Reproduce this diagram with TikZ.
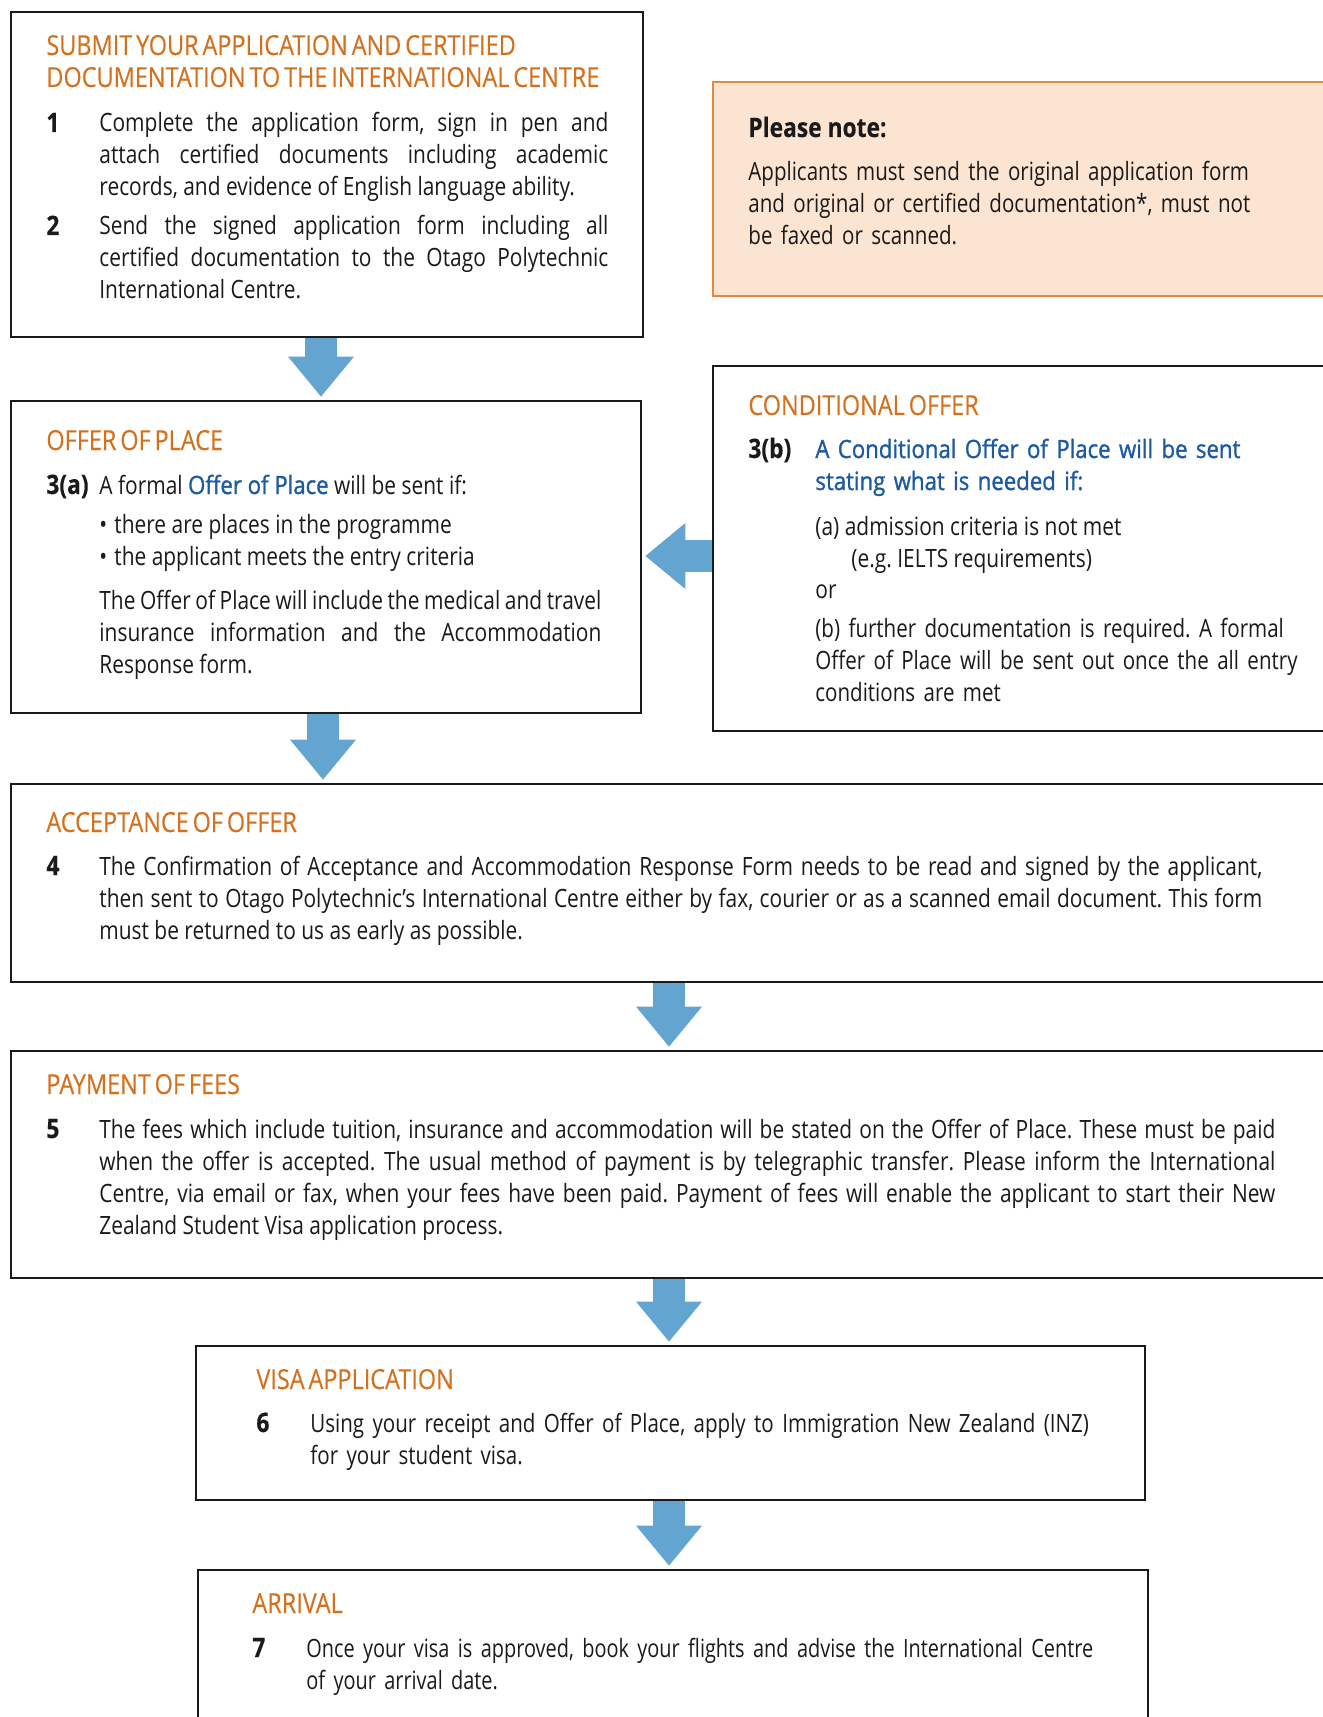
\documentclass[tikz,border=0pt]{standalone}
\usepackage{fontspec}
\setmainfont{Open Sans}[FakeStretch=0.83]
\newfontfamily\headfont{Open Sans}[FakeStretch=0.85, FakeBold=0.3]
\newfontfamily\semifont{Open Sans}[FakeStretch=0.88, FakeBold=1.2]
\newfontfamily\midfont{Open Sans}[FakeStretch=0.815]
\newfontfamily\tightfont{Open Sans}[FakeStretch=0.79]
\newcommand\headsetup{\fontsize{13.8pt}{16pt}\selectfont\headfont\spaceskip=0.14em\relax}
\usetikzlibrary{fit,arrows.meta}
\definecolor{ink}{HTML}{1A1A1A}
\definecolor{headc}{HTML}{D4711F}
\definecolor{bl}{HTML}{1D5AA0}
\definecolor{arr}{HTML}{64A4D0}
\definecolor{notefill}{HTML}{FCE4D2}
\definecolor{noteline}{HTML}{E4893D}
\hyphenpenalty=10000
\exhyphenpenalty=10000
\tolerance=9999
\frenchspacing
\begin{document}
\begin{tikzpicture}[x=0.5pt,y=-0.5pt,
  every node/.style={font=\fontsize{12.6pt}{16pt}\selectfont, inner sep=0pt, anchor=base west, text=ink},
  box/.style={draw=ink, line width=0.8pt, anchor=center},
  notebox/.style={draw=noteline, fill=notefill, line width=0.8pt, anchor=center},
  hd/.style={text=headc, font=\headsetup},
  num/.style={font=\fontsize{13.4pt}{16pt}\selectfont\headfont\bfseries},
  para/.style={text width=#1, align=justify},
  rag/.style={text width=#1, align=left},
  flow/.style={draw=arr, line width=16pt, shorten >=1.8pt, -{Triangle[width=33pt,length=20pt,line width=0pt]}}]
\useasboundingbox (0,0) rectangle (1322,1717);

% boxes
\node[box, fit={(11,12) (643,337)}] (b1) {};
\node[notebox, fit={(713,82) (1340,296)}] (note) {};
\node[box, fit={(11,401) (641,713)}] (b2) {};
\node[box, fit={(713,366) (1340,731)}] (b3) {};
\node[box, fit={(11,784) (1340,982)}] (b4) {};
\node[box, fit={(11,1051) (1340,1278)}] (b5) {};
\node[box, fit={(196,1346) (1145,1500)}] (b6) {};
\node[box, fit={(198,1570) (1148,1740)}] (b7) {};

% box 1
\node[hd, rag=300pt] (h1) at (46,55) {\spaceskip=0.14em\relax SUBMIT YOUR APPLICATION AND CERTIFIED\\DOCUMENTATION TO THE INTERNATIONAL CENTRE};
\node[num] (n1) at (46,132) {1};
\node[para=254.5pt] (t1) at (99,132) {Complete the application form, sign in pen and\linebreak attach certified documents including academic\linebreak records, and evidence of English language ability.};
\node[num] (n2) at (46,235) {2};
\node[para=254.5pt] (t2) at (99,235) {Send the signed application form including all\linebreak certified documentation to the Otago Polytechnic\linebreak International Centre.};

% note
\node[num] (pn) at (748,137) {Please note:};
\node[rag=300pt, font=\fontsize{12.6pt}{16pt}\selectfont\midfont] (nt) at (748,181) {Applicants must send the original application form\\and original or certified documentation*, must not\\be faxed or scanned.};

% box 2
\node[hd] (h2) at (46,450) {OFFER OF PLACE};
\node[num] (n3a) at (46,494) {3(a)};
\node (t3a) at (99,494) {A formal {\semifont\color{bl}Offer of Place} will be sent if:};
\node (bu1) at (99,533) {\makebox[7.5pt][l]{\textbullet}there are places in the programme};
\node (bu2) at (99,565) {\makebox[7.5pt][l]{\textbullet}the applicant meets the entry criteria};
\node[para=251pt] (t3c) at (99,609) {The Offer of Place will include the medical and travel\linebreak insurance information and the Accommodation\linebreak Response form.};

% box 3
\node[hd] (h3) at (748,415) {CONDITIONAL OFFER};
\node[num] (n3b) at (748,458) {3(b)};
\node[rag=260pt, text=bl, font=\fontsize{12.6pt}{16pt}\selectfont\semifont] (t3b) at (815,458) {A Conditional Offer of Place will be sent\\stating what is needed if:};
\node (ca) at (815,535) {(a) admission criteria is not met};
\node (cae) at (851,567) {(e.g. IELTS requirements)};
\node (cor) at (815,598) {or};
\node[rag=260pt, font=\fontsize{12.6pt}{16pt}\selectfont\midfont] (cb) at (815,637) {(b) further documentation is required. A formal\\Offer of Place will be sent out once the all entry\\conditions are met};

% box 4
\node[hd] (h4) at (46,832) {ACCEPTANCE OF OFFER};
\node[num] (n4) at (46,875) {4};
\node[para=581.5pt] (t4) at (99,875) {The Confirmation of Acceptance and Accommodation Response Form needs to be read and signed by the applicant,\linebreak then sent to Otago Polytechnic’s International Centre either by fax, courier or as a scanned email document. This form\linebreak must be returned to us as early as possible.};

% box 5
\node[hd] (h5) at (46,1094) {PAYMENT OF FEES};
\node[num] (n5) at (46,1138) {5};
\node[para=588pt] (t5) at (99,1138) {The fees which include tuition, insurance and accommodation will be stated on the Offer of Place. These must be paid\linebreak when the offer is accepted. The usual method of payment is by telegraphic transfer. Please inform the International\linebreak Centre, via email or fax, when your fees have been paid. Payment of fees will enable the applicant to start their New\linebreak Zealand Student Visa application process.};

% box 6
\node[hd] (h6) at (256,1389) {VISA APPLICATION};
\node[num] (n6) at (256,1432) {6};
\node[rag=420pt, font=\fontsize{12.6pt}{16pt}\selectfont\midfont] (t6) at (310,1432) {Using your receipt and Offer of Place, apply to Immigration New Zealand (INZ)\\for your student visa.};

% box 7
\node[hd] (h7) at (252,1613) {ARRIVAL};
\node[num] (n7) at (252,1657) {7};
\node[rag=420pt, font=\fontsize{12.6pt}{16pt}\selectfont\tightfont] (t7) at (306,1657) {Once your visa is approved, book your flights and advise the International Centre\\of your arrival date.};

% arrows
\coordinate (x1) at (321,0);
\coordinate (x2) at (323,0);
\coordinate (x3) at (669,0);
\coordinate (yl) at (0,556);
\draw[flow] (x1 |- b1.south) -- (x1 |- b2.north);
\draw[flow] (x2 |- b2.south) -- (x2 |- b4.north);
\draw[flow] (b3.west |- yl) -- (b2.east |- yl);
\draw[flow] (x3 |- b4.south) -- (x3 |- b5.north);
\draw[flow] (x3 |- b5.south) -- (x3 |- b6.north);
\draw[flow] (x3 |- b6.south) -- (x3 |- b7.north);
\end{tikzpicture}
\end{document}
